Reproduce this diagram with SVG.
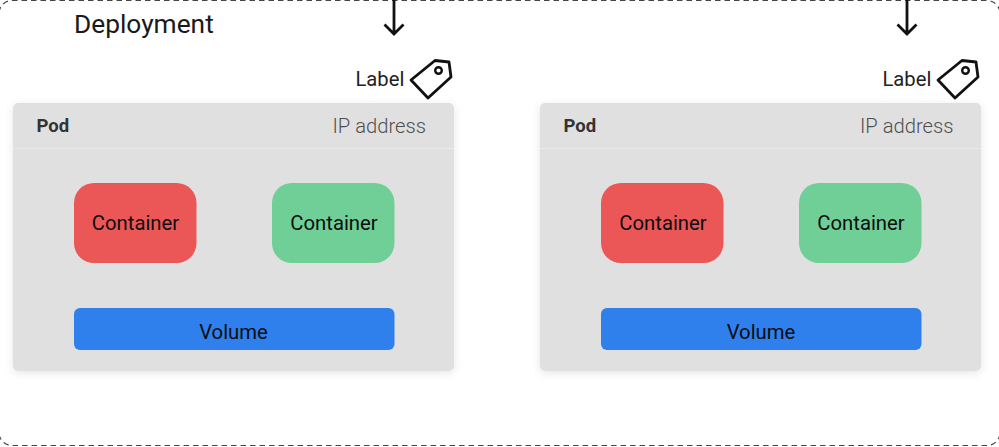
<svg xmlns="http://www.w3.org/2000/svg" width="999" height="447" viewBox="0 0 999 447">
<style>
text{font-family:Roboto,"Liberation Sans",sans-serif;fill:#1a1a1a}
.pod{fill:#e0e0e0;filter:url(#sh)}
.div{stroke:#eaeaea;stroke-width:1;fill:none}
.red{fill:#eb5757}.green{fill:#6fcf97}.blue{fill:#2f80ed}
.c{font-size:20.300px;text-anchor:middle;fill:#0d0d0d}
.ip{font-size:20.200px;text-anchor:end;fill:#4f4f4f;font-weight:300}
.podt{font-size:18.500px;font-weight:700;fill:#333}
.lab{font-size:20.200px;fill:#222}
.ln{fill:none;stroke:#111;stroke-width:2.800}
</style>
<defs>
<filter id="sh" x="-5%" y="-5%" width="110%" height="112%"><feDropShadow dx="0" dy="2" stdDeviation="4" flood-color="#000" flood-opacity="0.1"/></filter>
<g id="tag"><path class="ln" stroke-linejoin="round" d="M-30 20 L-6 0.500 L8 2 L10 17 L-13 38 Z"/><circle cx="-2.500" cy="10.500" r="3.300" fill="none" stroke="#111" stroke-width="2.400"/></g>
</defs>
<g id="deployment">
<rect x="-1" y="0.500" width="1001" height="445" rx="13" fill="#fff" stroke="#444" stroke-width="1.200" stroke-dasharray="5.500 4"/>
<text x="74" y="33" font-size="26.300" fill="#1a1a1a">Deployment</text>
</g>
<g id="connectors">
<path class="ln" d="M394 0V34M384.500 24.500L394 34L403.500 24.500"/>
<path class="ln" d="M907 0V34M897.500 24.500L907 34L916.500 24.500"/>
</g>
<g id="pod1">
<rect class="pod" x="13" y="103" width="441" height="268" rx="5"/>
<path class="div" d="M13 148.500H454"/>
<text class="podt" x="36.500" y="132">Pod</text>
<text class="ip" x="426" y="132.500">IP address</text>
<text class="lab" x="355.500" y="86">Label</text>
<use href="#tag" x="441" y="60"/>
</g>
<g id="container1a"><rect class="red" x="74" y="183" width="122.500" height="80" rx="20"/><text class="c" x="135.500" y="229.500">Container</text></g>
<g id="container1b"><rect class="green" x="272" y="183" width="122.500" height="80" rx="20"/><text class="c" x="334" y="229.500">Container</text></g>
<g id="volume1"><rect class="blue" x="74" y="308" width="320.500" height="42" rx="6"/><text class="c" x="233.500" y="338.500">Volume</text></g>
<g id="pod2">
<rect class="pod" x="540" y="103" width="441" height="268" rx="5"/>
<path class="div" d="M540 148.500H981"/>
<text class="podt" x="563.500" y="132">Pod</text>
<text class="ip" x="953.500" y="132.500">IP address</text>
<text class="lab" x="882.500" y="86">Label</text>
<use href="#tag" x="968" y="60"/>
</g>
<g id="container2a"><rect class="red" x="601" y="183" width="122.500" height="80" rx="20"/><text class="c" x="663" y="229.500">Container</text></g>
<g id="container2b"><rect class="green" x="799" y="183" width="122.500" height="80" rx="20"/><text class="c" x="861" y="229.500">Container</text></g>
<g id="volume2"><rect class="blue" x="601" y="308" width="320.500" height="42" rx="6"/><text class="c" x="761" y="338.500">Volume</text></g>
</svg>
